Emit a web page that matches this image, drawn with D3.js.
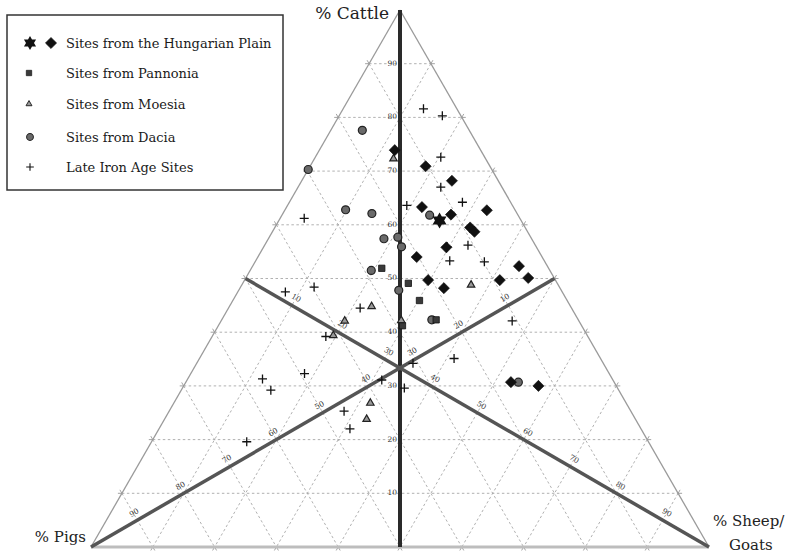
<!DOCTYPE html>
<html><head><meta charset="utf-8">
<script src="https://cdn.jsdelivr.net/npm/d3@7"></script>
<style>body{margin:0;background:#fff}svg{display:block}</style>
</head><body>
<svg id="chart" width="786" height="553"></svg>
<script>
// ---- data: [cattle %, pigs %, sheep/goats %] ----
const hungarianDiamonds = [[73.9,13.9,12.2],[70.9,10.4,18.7],[68.2,7.5,24.3],[62.7,4.6,32.7],[63.3,14.8,21.9],[61.9,10.8,27.3],[59.5,8.9,31.6],[58.7,8.6,32.7],[55.8,14.6,29.6],[54.0,20.3,25.7],[49.7,20.6,29.7],[48.2,18.8,33.0],[49.7,9.0,41.3],[52.3,4.6,43.1],[50.1,4.2,45.7],[30.7,16.7,52.6],[30.0,12.6,57.4]];
const hungarianStar = [[60.8,13.2,26.0]];
const pannonia = [[51.9,27.0,21.1],[49.1,24.1,26.8],[45.9,23.9,30.2],[42.3,23.0,34.7],[41.2,29.0,29.8]];
const moesia = [[72.3,14.9,12.8],[48.8,14.1,37.1],[44.8,32.2,23.0],[42.1,37.9,20.0],[39.4,41.1,19.5],[42.2,28.7,29.1],[26.8,41.4,31.8],[23.8,43.5,32.7]];
const dacia = [[77.6,17.3,5.1],[70.3,29.7,0],[62.8,27.4,9.8],[62.1,23.5,14.4],[61.8,14.3,23.9],[57.4,23.9,18.7],[57.7,21.5,20.8],[55.9,21.8,22.3],[51.5,28.9,19.6],[47.8,26.3,25.9],[42.3,23.7,34.0],[30.7,15.5,53.8]];
const lateIronAge = [[81.6,5.4,13.0],[80.3,3.0,16.7],[72.6,7.1,20.3],[67.0,9.9,23.1],[64.2,7.8,28.0],[63.6,17.1,19.3],[61.2,34.9,3.9],[56.2,10.9,32.9],[55.9,14.4,29.7],[53.3,15.3,31.4],[53.1,9.8,37.1],[47.5,44.8,7.7],[48.4,39.7,11.9],[44.5,34.2,21.3],[39.2,42.4,18.4],[42.1,10.8,47.1],[35.1,23.7,41.2],[34.2,30.8,35.0],[32.3,49.3,18.4],[31.3,56.6,12.1],[29.2,56.3,14.5],[31.1,37.4,31.5],[29.6,34.5,35.9],[25.3,46.4,28.3],[22.0,47.1,30.9],[19.6,65.0,15.4]];
const tickValues = [10,20,30,40,50,60,70,80,90];
const legendLabels = ["Sites from the Hungarian Plain","Sites from Pannonia","Sites from Moesia","Sites from Dacia","Late Iron Age Sites"];
const axisTitles = {cattle:"% Cattle", pigs:"% Pigs", sheep1:"% Sheep/", sheep2:"Goats"};

const svg = d3.select("#chart");
const FONT = "'DejaVu Serif', serif";
// scales: cattle -> vertical, (sheep - pigs) -> horizontal
const yScale = d3.scaleLinear().domain([0,100]).range([547,10]);
const xScale = d3.scaleLinear().domain([-100,100]).range([91,709]);
const proj = d => [xScale(d[2]-d[1]), yScale(d[0])];

const g = svg.append("g");

// grid lines
const gridLines = [];
tickValues.forEach(v => {
  gridLines.push([[v,100-v,0],[v,0,100-v]]);
  gridLines.push([[100-v,v,0],[0,v,100-v]]);
  gridLines.push([[100-v,0,v],[0,100-v,v]]);
});
g.selectAll("line.grid").data(gridLines).join("line").attr("class","grid")
  .attr("x1",d=>proj(d[0])[0]).attr("y1",d=>proj(d[0])[1])
  .attr("x2",d=>proj(d[1])[0]).attr("y2",d=>proj(d[1])[1])
  .attr("stroke","#a8a8a8").attr("stroke-width",0.9).attr("stroke-dasharray","2.5,2.5");
// small tick extensions outside the edges
const ext = [];
gridLines.forEach(l => {
  const a = proj(l[0]), b = proj(l[1]);
  const dx = b[0]-a[0], dy = b[1]-a[1], L = Math.hypot(dx,dy);
  const ux = dx/L, uy = dy/L;
  ext.push([a, [a[0]-ux*4, a[1]-uy*4]]);
  ext.push([b, [b[0]+ux*4, b[1]+uy*4]]);
});
g.selectAll("line.ext").data(ext).join("line").attr("class","ext")
  .attr("x1",d=>d[0][0]).attr("y1",d=>d[0][1]).attr("x2",d=>d[1][0]).attr("y2",d=>d[1][1])
  .attr("stroke","#999").attr("stroke-width",0.9);

// triangle edges
const A=[100,0,0], B=[0,100,0], C=[0,0,100];
const edges = [{a:A,b:B,c:"#9a9a9a",w:1.3},{a:A,b:C,c:"#9a9a9a",w:1.3},{a:B,b:C,c:"#bdbdbd",w:3}];
g.selectAll("line.edge").data(edges).join("line")
  .attr("x1",d=>proj(d.a)[0]).attr("y1",d=>proj(d.a)[1]).attr("x2",d=>proj(d.b)[0]).attr("y2",d=>proj(d.b)[1])
  .attr("stroke",d=>d.c).attr("stroke-width",d=>d.w);

// medians
const medians = [
  {a:A,b:[0,50,50],c:"#2a2a2a",w:4},
  {a:[50,50,0],b:C,c:"#555",w:3.5},
  {a:[50,0,50],b:B,c:"#555",w:3.5}];
g.selectAll("line.med").data(medians).join("line")
  .attr("x1",d=>proj(d.a)[0]).attr("y1",d=>proj(d.a)[1]).attr("x2",d=>proj(d.b)[0]).attr("y2",d=>proj(d.b)[1])
  .attr("stroke",d=>d.c).attr("stroke-width",d=>d.w);

// tick labels
const tl = g.append("g").attr("font-family",FONT).attr("font-size",7.5).attr("fill","#333");
tl.selectAll("text.c").data(tickValues).join("text")
  .attr("x",v=>proj([v,(100-v)/2,(100-v)/2])[0]-3).attr("y",v=>proj([v,(100-v)/2,(100-v)/2])[1])
  .attr("text-anchor","end").attr("dominant-baseline","middle").text(v=>v);
tl.selectAll("text.s").data(tickValues).join("text")
  .attr("transform",v=>{const p=proj([50*(1-v/100),50*(1-v/100),v]);return `translate(${p[0]+4},${p[1]-7}) rotate(30)`;})
  .attr("text-anchor","middle").attr("dominant-baseline","middle").text(v=>v);
tl.selectAll("text.p").data(tickValues).join("text")
  .attr("transform",v=>{const p=proj([50*(1-v/100),v,50*(1-v/100)]);return `translate(${p[0]-3},${p[1]-7}) rotate(-30)`;})
  .attr("text-anchor","middle").attr("dominant-baseline","middle").text(v=>v);

// axis titles
const tt = g.append("g").attr("font-family",FONT).attr("fill","#222");
tt.append("text").attr("x",389).attr("y",19).attr("font-size",17).attr("text-anchor","end").text(axisTitles.cattle);
tt.append("text").attr("x",86).attr("y",542).attr("font-size",15).attr("text-anchor","end").text(axisTitles.pigs);
tt.append("text").attr("x",713).attr("y",526).attr("font-size",15).text(axisTitles.sheep1);
tt.append("text").attr("x",729).attr("y",550).attr("font-size",15).text(axisTitles.sheep2);

// symbol generators
const hexStar = (ro,ri) => { const pts=[]; for(let i=0;i<12;i++){const a=Math.PI/6*i - Math.PI/2; const r=i%2?ri:ro; pts.push([r*Math.cos(a), r*Math.sin(a)]);} return "M"+pts.join("L")+"Z"; };
const diamondPath = d3.symbol(d3.symbolSquare, 62)();
const squarePath = d3.symbol(d3.symbolSquare, 40)();
const triPath = d3.symbol(d3.symbolTriangle, 24)();
const plusPath = "M-4.5,0H4.5M0,-4.5V4.5";

function drawPoints(data, cls, fn) {
  g.selectAll("path."+cls).data(data).join("path").attr("class",cls)
    .attr("transform",d=>{const p=proj(d);return `translate(${p[0]},${p[1]})`;}).call(fn);
}
const stDac = s => s.attr("d", d3.symbol(d3.symbolCircle, 50)()).attr("fill","#6a6a6a").attr("stroke","#222").attr("stroke-width",1.2);
const stPan = s => s.attr("d", squarePath).attr("fill","#3a3a3a").attr("stroke","#111").attr("stroke-width",0.8);
const stMoe = s => s.attr("d", triPath).attr("fill","#999").attr("stroke","#222").attr("stroke-width",1.2);
const stIron = s => s.attr("d", plusPath).attr("fill","none").attr("stroke","#111").attr("stroke-width",1.3);
const stDia = s => s.attr("d", diamondPath).attr("fill","#111").attr("stroke","#111").attr("stroke-width",0.6);
const stStar = s => s.attr("d", hexStar(8,4.6)).attr("fill","#111");

drawPoints(dacia,"dac",stDac);
drawPoints(pannonia,"pan",stPan);
drawPoints(moesia,"moe",stMoe);
drawPoints(hungarianDiamonds,"dia",s=>{stDia(s); s.attr("transform",d=>{const p=proj(d);return `translate(${p[0]},${p[1]}) rotate(45)`;});});
drawPoints(lateIronAge,"iron",stIron);
drawPoints(hungarianStar,"star",stStar);

// legend
const lg = svg.append("g");
lg.append("rect").attr("x",7).attr("y",15).attr("width",276).attr("height",175)
  .attr("fill","#fff").attr("stroke","#333").attr("stroke-width",1.5);
const rows = [43,73,104,137,167];
lg.selectAll("text").data(legendLabels).join("text")
  .attr("x",66).attr("y",(d,i)=>rows[i]+4.5).attr("font-family",FONT).attr("font-size",13).attr("fill","#1a1a1a").text(d=>d);
lg.append("path").attr("transform",`translate(30,${rows[0]})`).call(s=>s.attr("d",hexStar(7,4)).attr("fill","#111"));
lg.append("path").attr("transform",`translate(51,${rows[0]}) rotate(45)`).call(stDia);
lg.append("path").attr("transform",`translate(29,${rows[1]}) scale(0.85)`).call(stPan);
lg.append("path").attr("transform",`translate(29,${rows[2]}) scale(0.8)`).call(stMoe);
lg.append("path").attr("transform",`translate(30,${rows[3]}) scale(0.85)`).call(stDac);
lg.append("path").attr("transform",`translate(30,${rows[4]}) scale(0.85)`).call(stIron);
</script>
</body></html>
